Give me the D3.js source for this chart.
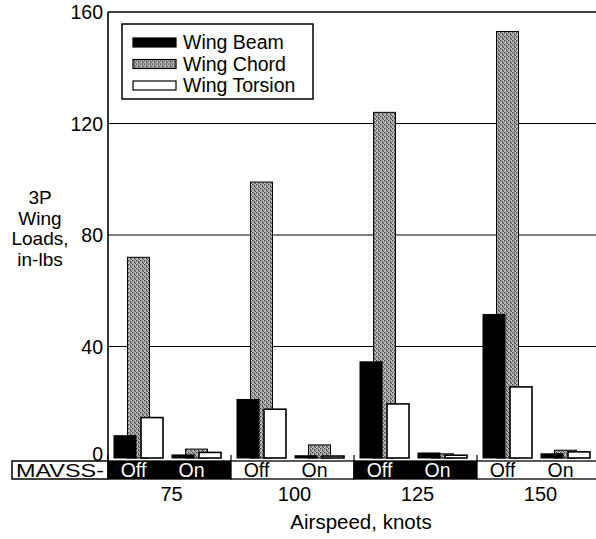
<!DOCTYPE html>
<html>
<head>
<meta charset="utf-8">
<script src="https://cdn.jsdelivr.net/npm/d3@7"></script>
<style>
  html, body { margin: 0; padding: 0; background: #fff; }
  svg { display: block; }
  text { font-family: "Liberation Sans", Arial, Helvetica, sans-serif; }
</style>
</head>
<body>
<svg id="chart" width="596" height="539"></svg>
<script>
// ---- data ----
const airspeeds = ["75", "100", "125", "150"];
const modes = ["Off", "On"];
const series = ["Wing Beam", "Wing Chord", "Wing Torsion"];
const beamOff    = [8, 21, 34.5, 51.5];
const chordOff   = [72, 99, 124, 153];
const torsionOff = [14.5, 17.5, 19.4, 25.5];
const beamOn     = [1.1, 0.8, 1.8, 1.5];
const chordOn    = [3.2, 4.7, 1.5, 2.8];
const torsionOn  = [2.0, 0.7, 1.0, 2.2];
const yTicks = [0, 40, 80, 120, 160];
const yTitle = ["3P", "Wing", "Loads,", "in-lbs"];
const xTitle = "Airspeed, knots";
const rowLabel = "MAVSS-";

(function () {
// ---- build rows ----
const valuesBy = {
  "Off": { "Wing Beam": beamOff, "Wing Chord": chordOff, "Wing Torsion": torsionOff },
  "On":  { "Wing Beam": beamOn,  "Wing Chord": chordOn,  "Wing Torsion": torsionOn }
};
const rows = [];
airspeeds.forEach((a, i) => modes.forEach(m => series.forEach(s => {
  rows.push({ airspeed: a, mode: m, series: s, value: valuesBy[m][s][i] });
})));

const svg = d3.select("#chart");
const pLeft = 108, pRight = 600, pTop = 12, pBottom = 458;

const y = d3.scaleLinear().domain([0, 160]).range([pBottom, pTop]);
const x0 = d3.scaleBand().domain(airspeeds).range([pLeft, pRight]).padding(0);
const x1 = d3.scaleBand().domain(modes).range([0, x0.bandwidth()])
  .paddingInner(0.155).paddingOuter(0.138).align(0.375);
const barW = 22;
const x2 = d3.scalePoint().domain(series).range([0, x1.bandwidth() - barW]);

// pattern for chord (dithered gray)
const defs = svg.append("defs");
const pat = defs.append("pattern").attr("id", "dither")
  .attr("width", 4).attr("height", 4).attr("patternUnits", "userSpaceOnUse");
pat.append("rect").attr("width", 4).attr("height", 4).attr("fill", "#9a9a9a");
[[0,0,"#3c3c3c"],[2,2,"#3c3c3c"],[1,2,"#dadada"],[3,0,"#d4d4d4"],[2,1,"#666"],[0,3,"#c4c4c4"],[3,3,"#555"]]
  .forEach(([px,py,c]) => pat.append("rect").attr("x",px).attr("y",py).attr("width",1).attr("height",1).attr("fill",c));

const fills = { "Wing Beam": "#000", "Wing Chord": "url(#dither)", "Wing Torsion": "#fff" };

// gridlines + frame
svg.append("g").selectAll("line").data(yTicks.filter(t => t > 0)).join("line")
  .attr("x1", pLeft).attr("x2", 596)
  .attr("y1", d => y(d)).attr("y2", d => y(d))
  .attr("stroke", "#000").attr("stroke-width", d => d === 160 ? 1.6 : 1.1);
svg.append("line").attr("x1", pLeft).attr("x2", pLeft).attr("y1", pTop).attr("y2", 461)
  .attr("stroke", "#000").attr("stroke-width", 1.6);

// y axis labels
svg.append("g").selectAll("text").data(yTicks).join("text")
  .attr("x", pLeft - 5).attr("y", d => y(d) - (d === 0 ? 4 : 0)).attr("dy", "0.36em")
  .attr("text-anchor", "end").attr("font-size", 19.5).text(d => d);

// y title
svg.append("g").selectAll("text").data(yTitle).join("text")
  .attr("x", 40).attr("y", (d, i) => 204 + i * 20.5)
  .attr("text-anchor", "middle").attr("font-size", 19).text(d => d);

// bars: chord drawn first (behind)
const order = ["Wing Chord", "Wing Beam", "Wing Torsion"];
const sorted = rows.slice().sort((a, b) => order.indexOf(a.series) - order.indexOf(b.series));
svg.append("g").selectAll("rect").data(sorted).join("rect")
  .attr("x", d => x0(d.airspeed) + x1(d.mode) + x2(d.series))
  .attr("y", d => y(d.value))
  .attr("width", barW)
  .attr("height", d => y(0) - y(d.value))
  .attr("fill", d => fills[d.series])
  .attr("stroke", "#000")
  .attr("stroke-width", d => d.series === "Wing Torsion" ? 1.6 : 1);

// MAVSS row
const rowTop = 461, rowH = 18;
svg.append("rect").attr("x", 12).attr("y", rowTop).attr("width", pLeft - 12).attr("height", rowH)
  .attr("fill", "#fff").attr("stroke", "#000").attr("stroke-width", 1.5);
svg.append("text").attr("x", 60).attr("y", rowTop + rowH / 2).attr("dy", "0.36em")
  .attr("text-anchor", "middle").attr("font-size", 19).attr("textLength", 88)
  .attr("lengthAdjust", "spacingAndGlyphs").text(rowLabel);
const seg = svg.append("g").selectAll("g").data(airspeeds).join("g");
seg.append("rect")
  .attr("x", d => x0(d)).attr("y", rowTop).attr("width", x0.bandwidth()).attr("height", rowH)
  .attr("fill", (d, i) => i % 2 === 0 ? "#000" : "#fff")
  .attr("stroke", "#000").attr("stroke-width", 1.3);
seg.append("line")
  .attr("x1", d => x0(d)).attr("x2", d => x0(d)).attr("y1", rowTop - 6).attr("y2", rowTop)
  .attr("stroke", "#000").attr("stroke-width", 1.2);
seg.selectAll("text").data((d, i) => modes.map(m => ({ a: d, m, i }))).join("text")
  .attr("x", d => x0(d.a) + x1(d.m) + x1.bandwidth() / 2 - 5)
  .attr("y", rowTop + rowH / 2).attr("dy", "0.36em")
  .attr("text-anchor", "middle").attr("font-size", 19.5)
  .attr("fill", d => d.i % 2 === 0 ? "#fff" : "#000").text(d => d.m);

// x labels
svg.append("g").selectAll("text").data(airspeeds).join("text")
  .attr("x", d => x0(d) + x0.bandwidth() / 2 + 2).attr("y", 494).attr("dy", "0.36em")
  .attr("text-anchor", "middle").attr("font-size", 20).text(d => d);
svg.append("text").attr("x", 361).attr("y", 522).attr("dy", "0.36em")
  .attr("text-anchor", "middle").attr("font-size", 20.5).text(xTitle);

// legend
const lg = svg.append("g");
lg.append("rect").attr("x", 122).attr("y", 24).attr("width", 191).attr("height", 75)
  .attr("fill", "#fff").attr("stroke", "#000").attr("stroke-width", 1.5);
const li = lg.selectAll("g").data(series).join("g")
  .attr("transform", (d, i) => `translate(0, ${42 + i * 21.5})`);
li.append("rect").attr("x", 133).attr("y", -4).attr("width", 43).attr("height", 9)
  .attr("fill", d => fills[d]).attr("stroke", "#000").attr("stroke-width", 1.2);
li.append("text").attr("x", 183).attr("y", 0).attr("dy", "0.36em")
  .attr("font-size", 19.5).text(d => d);
})();
</script>
</body>
</html>
